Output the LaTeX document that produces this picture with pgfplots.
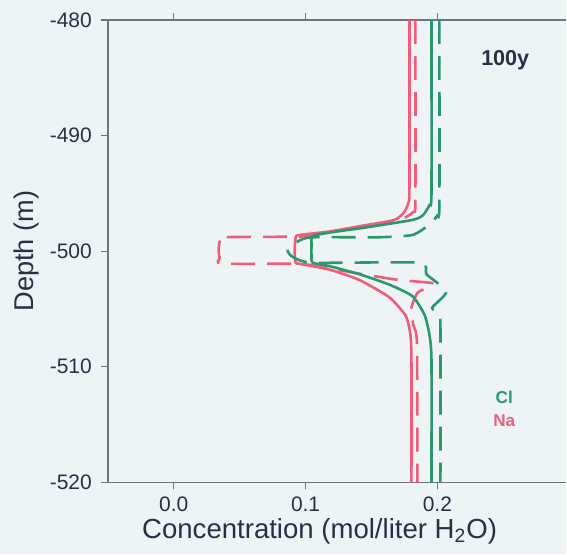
\documentclass[border=0pt]{standalone}
\usepackage{fontspec}
\setmainfont{Liberation Sans}
\usepackage{pgfplots}
\pgfplotsset{compat=1.18}
\usetikzlibrary{backgrounds}
\definecolor{cl}{RGB}{42,152,108}
\definecolor{na}{RGB}{238,94,120}
\definecolor{ink}{RGB}{40,48,70}
\definecolor{bg}{RGB}{238,244,246}
\definecolor{axgray}{RGB}{110,116,125}

\begin{document}
\begin{tikzpicture}
\begin{axis}[
  name=ax,
  scale only axis, width=229.5pt, height=231.5pt,
  xmin=-0.05, xmax=0.2977, ymin=-520, ymax=-480,
  axis x line=box, axis y line=left,
  axis line style={-, axgray, line width=0.8pt},
  every outer y axis line/.append style={-},
  tick align=outside, major tick length=3.5pt,
  tick style={axgray, line width=0.6pt},
  xtick={0,0.1,0.2}, ytick={-520,-510,-500,-490,-480},
  /pgf/number format/assume math mode=true,
  xticklabel={\pgfmathprintnumber[fixed,fixed zerofill,precision=1]{\tick}},
  ticklabel style={font=\fontsize{10.5}{12}\selectfont, text=ink},
  yticklabel style={xshift=-1pt},
  xticklabel style={yshift=-0.5pt},
  xlabel={Concentration (mol/liter H\textsubscript{2}O)},
  ylabel={Depth (m)},
  every axis x label/.style={at={(axis description cs:0.462,-0.121)}, anchor=base,
    font=\fontsize{13.8}{15}\selectfont, text=ink},
  every axis y label/.style={at={(axis description cs:-0.1765,0.5)}, rotate=90, anchor=center,
    font=\fontsize{13.6}{15}\selectfont, text=ink},
  clip=false,
]
% Na, solid
\addplot[na, line width=1.3pt, smooth, tension=0.35] coordinates {
  (0.1788,-480) (0.1788,-494.5) (0.1780,-495.8) (0.1750,-496.6) (0.1674,-497.3)
  (0.1432,-497.8) (0.1182,-498.3) (0.0955,-498.6) (0.0925,-498.8) (0.0917,-500)
  (0.0925,-501.0) (0.0955,-501.1) (0.1182,-501.6) (0.1409,-502.5) (0.1636,-504.0)
  (0.1760,-505.6) (0.1795,-507.2) (0.1803,-509.4) (0.1803,-520)};
% Na, dashed
\addplot[na, line width=1.3pt, dash pattern=on 12pt off 6pt, smooth, tension=0.35] coordinates {
  (0.1833,-480) (0.1833,-495.5) (0.1818,-496.6) (0.1712,-497.3) (0.1409,-497.9)
  (0.1106,-498.5) (0.0955,-498.74) (0.0364,-498.8) (0.0348,-499.2) (0.0340,-499.9)
  (0.0348,-500.6) (0.0364,-501.08) (0.0955,-501.1) (0.1182,-501.5) (0.1432,-502.0)
  (0.1712,-502.5) (0.1970,-502.8) (0.1850,-503.6) (0.1800,-505.0) (0.1820,-506.5)
  (0.1845,-508) (0.1848,-520)};
% Cl, solid
\addplot[cl, line width=1.3pt, smooth, tension=0.35] coordinates {
  (0.1955,-480) (0.1955,-495) (0.1940,-496.0) (0.1890,-496.9) (0.1811,-497.3)
  (0.1485,-497.9) (0.1182,-498.4) (0.1053,-498.7) (0.1045,-499.5) (0.1045,-500.5)
  (0.1053,-501.0) (0.1182,-501.3) (0.1409,-502.0) (0.1636,-502.9) (0.1811,-503.9)
  (0.1902,-505.5) (0.1939,-507.2) (0.1955,-509.4) (0.1955,-520)};
% Cl, dashed
\addplot[cl, line width=1.3pt, dash pattern=on 12pt off 6pt, smooth, tension=0.35] coordinates {
  (0.2015,-480) (0.2015,-496.0) (0.2000,-496.9) (0.1939,-497.7) (0.1811,-498.6)
  (0.1550,-498.8) (0.1053,-498.8) (0.0950,-499.1) (0.0864,-499.9) (0.0902,-500.5)
  (0.1053,-501.0) (0.1864,-501.0) (0.1917,-502.0) (0.2068,-503.5) (0.1960,-504.9)
  (0.2010,-505.4) (0.2023,-506.5) (0.2023,-520)};
\node[font=\bfseries\fontsize{10.8}{12}\selectfont, text=ink] at (axis description cs:0.867,0.914) {100y};
\node[font=\bfseries\fontsize{8.6}{10}\selectfont, text=cl] at (axis description cs:0.865,0.184) {Cl};
\node[font=\bfseries\fontsize{8.6}{10}\selectfont, text=na] at (axis description cs:0.865,0.134) {Na};
\end{axis}
\begin{scope}[on background layer]
\fill[bg] ([xshift=-54pt,yshift=-36pt]ax.south west) rectangle ([yshift=10pt]ax.north east);
\end{scope}
\end{tikzpicture}
\end{document}
